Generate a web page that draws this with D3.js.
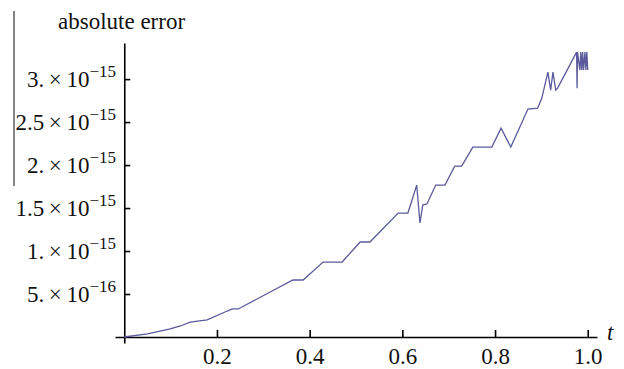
<!DOCTYPE html>
<html>
<head>
<meta charset="utf-8">
<script src="https://cdn.jsdelivr.net/npm/d3@7"></script>
<style>
  body { margin: 0; background: #fff; }
  svg { display: block; }
  text { font-family: "Liberation Serif", "DejaVu Serif", serif; fill: #111; }
</style>
</head>
<body>
<script>
// t values and absolute error (in units of 1e-15)
var tValues = [0, 0.050, 0.099, 0.121, 0.142, 0.179, 0.222, 0.233, 0.246, 0.364, 0.386,
  0.429, 0.470, 0.509, 0.530, 0.591, 0.612, 0.631, 0.638, 0.644, 0.653, 0.672, 0.692,
  0.713, 0.728, 0.752, 0.793, 0.813, 0.834, 0.871, 0.892, 0.901, 0.914, 0.920, 0.925,
  0.931, 0.935, 0.976, 0.977, 0.978, 0.983, 0.985, 0.987, 0.989, 0.991, 0.994, 0.996, 0.998, 1.0];
var errValues = [0, 0.035, 0.093, 0.128, 0.174, 0.198, 0.302, 0.326, 0.326, 0.663, 0.663,
  0.872, 0.872, 1.105, 1.105, 1.442, 1.442, 1.767, 1.326, 1.535, 1.547, 1.767, 1.767,
  1.988, 1.988, 2.209, 2.209, 2.430, 2.209, 2.651, 2.663, 2.779, 3.081, 2.872, 3.081,
  2.872, 2.895, 3.314, 2.895, 3.314, 3.105, 3.314, 3.105, 3.314, 3.105, 3.314, 3.105, 3.314, 3.105];

var xTicks = [0.2, 0.4, 0.6, 0.8, 1.0];
var yTicks = [0.5, 1, 1.5, 2, 2.5, 3];
var yTickMain = ["5.", "1.", "1.5", "2.", "2.5", "3."];
var yTickExp = ["\u221216", "\u221215", "\u221215", "\u221215", "\u221215", "\u221215"];

var width = 624, height = 369;

var svg = d3.select("body").append("svg")
  .attr("width", width)
  .attr("height", height);

var x = d3.scaleLinear().domain([-0.02, 1.02]).range([115, 597]);
var y = d3.scaleLinear().domain([-0.07, 3.42]).range([343, 43]);

// stray frame line at the far left
svg.append("line")
  .attr("x1", 14).attr("x2", 14)
  .attr("y1", 11).attr("y2", 186)
  .style("stroke", "#333")
  .style("stroke-width", 1.2);

// minor ticks
var xMinor = d3.range(0.05, 1.001, 0.05).filter(function(d){ return Math.abs(d*5 - Math.round(d*5)) > 1e-6; });
var yMinor = d3.range(0.05, 3.41, 0.05).filter(function(d){ return Math.abs(d*2 - Math.round(d*2)) > 1e-6; });

var gx = svg.append("g").attr("transform", "translate(0," + y(0) + ")");
gx.call(d3.axisBottom(x).tickValues(xMinor).tickSizeInner(-4).tickSizeOuter(0).tickFormat(""));
gx.call(d3.axisBottom(x).tickValues(xTicks).tickSizeInner(-7).tickSizeOuter(0).tickPadding(11)
  .tickFormat(d3.format(".1f")));
gx.selectAll("path.domain, line").style("stroke", "#000").style("stroke-width", 1.6);
gx.selectAll("text").style("font-size", "23px").style("font-family", "'Liberation Serif', serif").attr("fill", "#111");

var gy = svg.append("g").attr("transform", "translate(" + x(0) + ",0)");
gy.call(d3.axisLeft(y).tickValues(yMinor).tickSizeInner(-4).tickSizeOuter(0).tickFormat(""));
gy.call(d3.axisLeft(y).tickValues(yTicks).tickSizeInner(-6).tickSizeOuter(0).tickFormat(""));
gy.selectAll("path.domain, line").style("stroke", "#000").style("stroke-width", 1.6);

// y tick labels with superscript exponents
var yl = svg.append("g").selectAll("text").data(yTicks).enter().append("text")
  .attr("x", 116)
  .attr("y", function(d){ return y(d) + 8; })
  .attr("text-anchor", "end")
  .style("font-size", "23px");
yl.append("tspan").text(function(d, i){ return yTickMain[i] + "\u2009\u00d7\u200910"; });
yl.append("tspan").attr("dy", -10).style("font-size", "17px")
  .text(function(d, i){ return yTickExp[i]; });

// axis titles
svg.append("text").attr("x", 58).attr("y", 29)
  .style("font-size", "23px").text("absolute error");
svg.append("text").attr("x", 607).attr("y", 340)
  .style("font-size", "23px").style("font-style", "italic").text("t");

// error curve
var line = d3.line()
  .x(function(d){ return x(d[0]); })
  .y(function(d){ return y(d[1]); });

svg.append("path")
  .datum(d3.zip(tValues, errValues))
  .attr("d", line)
  .style("fill", "none")
  .style("stroke", "#5a5a9c")
  .style("stroke-width", 1.3)
  .style("stroke-linejoin", "miter");
</script>
</body>
</html>
